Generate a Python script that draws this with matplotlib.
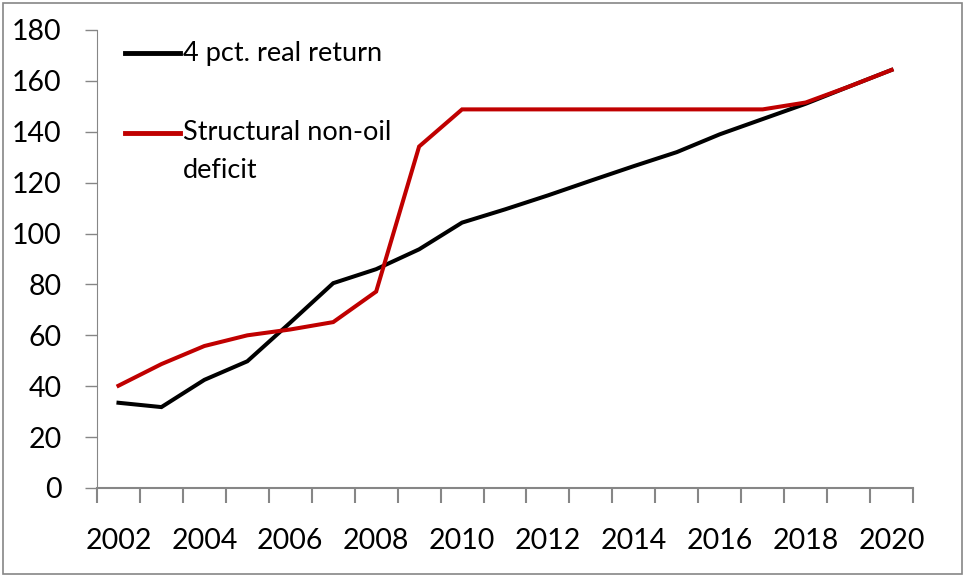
import matplotlib
matplotlib.use("Agg")
import matplotlib.pyplot as plt
from matplotlib.lines import Line2D
from matplotlib.patches import Rectangle

years = list(range(2002, 2021))
real_return = [33.5, 31.8, 42.5, 49.8, 65, 80.5, 86, 93.8, 104.3, 109.5,
               115, 120.8, 126.5, 132, 139, 145, 151, 157.7, 164.3]
non_oil_deficit = [40.2, 48.7, 55.8, 60, 62.3, 65.2, 77.2, 134.2, 148.8, 148.8,
                   148.8, 148.8, 148.8, 148.8, 148.8, 148.8, 151.5, 157.7, 164.3]
labels = ["4 pct. real return", "Structural non-oil\ndeficit"]
colors = ["black", "#C00000"]

plt.rcParams['font.family'] = ['Lato', 'DejaVu Sans']
GREY = "#868686"

fig = plt.figure(figsize=(9.65, 5.76), dpi=100)
ax = fig.add_axes([97 / 965, 88 / 576, 816 / 965, 458 / 576])

x = list(range(len(years)))
ax.plot(x, real_return, color=colors[0], lw=2.9, solid_joinstyle='miter')
ax.plot(x, non_oil_deficit, color=colors[1], lw=2.9, solid_joinstyle='miter')

ax.set_xlim(-0.5, len(years) - 0.5)
ax.set_ylim(0, 180)
ax.set_yticks(range(0, 181, 20))
ax.tick_params(axis='y', labelsize=20.5, length=9, color=GREY, pad=16.5, width=1)

# category boundaries as major ticks, labels on minor ticks at centres
ax.set_xticks([i - 0.5 for i in range(len(years) + 1)])
ax.set_xticklabels([])
ax.set_xticks(x[::2], minor=True)
ax.set_xticklabels([str(y) for y in years[::2]], minor=True)
ax.tick_params(axis='x', which='major', length=11, color=GREY, width=1.5)
ax.tick_params(axis='x', which='minor', length=0, labelsize=20.5, pad=29)

for s in ['top', 'right']:
    ax.spines[s].set_visible(False)
ax.spines['left'].set_color(GREY)
ax.spines['bottom'].set_color(GREY)
ax.spines['bottom'].set_linewidth(1.5)

# legend drawn by hand so the handle sits on the first text line
for (yy, lab, col) in [(53, labels[0], colors[0]), (133, labels[1], colors[1])]:
    fy = 1 - yy / 576
    fig.add_artist(Line2D([125 / 965, 180 / 965], [fy, fy], color=col, lw=3.5,
                          transform=fig.transFigure))
    for k, part in enumerate(lab.split('\n')):
        fig.text(183 / 965, fy - k * 37 / 576, part, fontsize=19.5, va='center',
                 ha='left', transform=fig.transFigure)

fig.add_artist(Rectangle((3 / 965, 2 / 576), 959 / 965, 571 / 576, fill=False,
                         edgecolor=GREY, lw=1.2, transform=fig.transFigure))

fig.savefig("out.png", dpi=100)
